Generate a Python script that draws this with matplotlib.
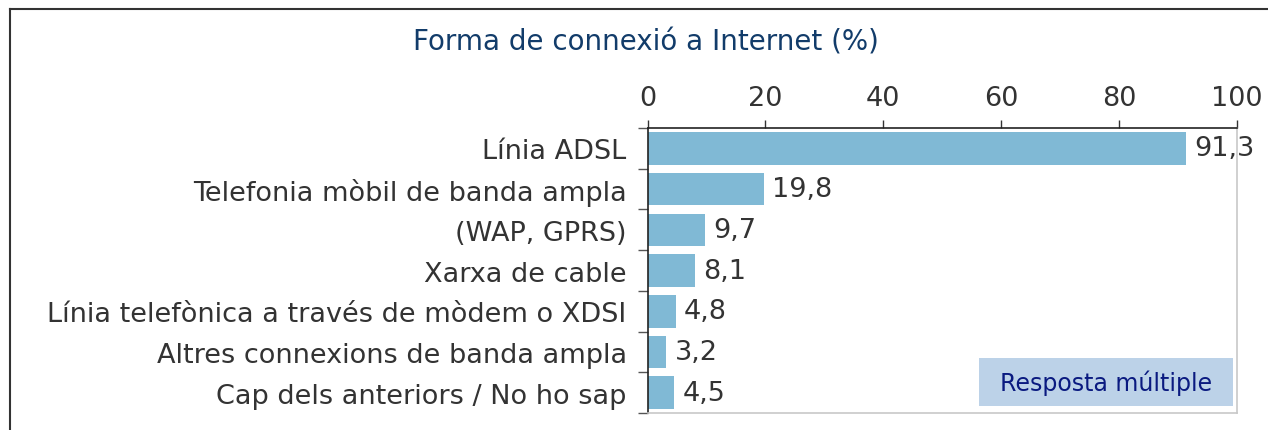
import matplotlib
matplotlib.use("Agg")
import matplotlib.pyplot as plt
from matplotlib.lines import Line2D
from matplotlib.patches import Rectangle
import numpy as np

categories = [
    "Línia ADSL",
    "Telefonia mòbil de banda ampla",
    "(WAP, GPRS)",
    "Xarxa de cable",
    "Línia telefònica a través de mòdem o XDSI",
    "Altres connexions de banda ampla",
    "Cap dels anteriors / No ho sap",
]
values = [91.3, 19.8, 9.7, 8.1, 4.8, 3.2, 4.5]
value_labels = ["91,3", "19,8", "9,7", "8,1", "4,8", "3,2", "4,5"]
x_ticks = [0, 20, 40, 60, 80, 100]
title = "Forma de connexió a Internet (%)"
note = "Resposta múltiple"

plt.rcParams['font.family'] = ['DejaVu Sans']

W, H = 1268, 431
fig = plt.figure(figsize=(W / 100, H / 100), dpi=100)

FS = 19.5
txt = "#333333"

ax = fig.add_axes([647.5 / W, 1 - 414 / H, (1237 - 647.5) / W, (414 - 129) / H])
y = np.arange(len(categories))
ax.barh(y, values, height=0.8, color="#80b9d5", zorder=2)
ax.set_ylim(len(categories) - 0.5, -0.5)
ax.set_xlim(0, 100)

ax.xaxis.tick_top()
ax.set_xticks(x_ticks)
ax.set_xticklabels([str(t) for t in x_ticks], fontsize=FS, color=txt)
ax.tick_params(axis="x", direction="out", length=6, width=1, color="#333333", pad=6)

ax.set_yticks(y)
ax.set_yticklabels(categories, fontsize=FS, color=txt)
ax.tick_params(axis="y", which="major", length=0, pad=15)
ax.set_yticks(np.arange(len(categories) + 1) - 0.5, minor=True)
ax.tick_params(axis="y", which="minor", length=7, width=1, color="#555555", direction="out")

for sp in ["top", "left"]:
    ax.spines[sp].set_color("#222222")
    ax.spines[sp].set_linewidth(1.2)
for sp in ["right", "bottom"]:
    ax.spines[sp].set_color("#c8c8c8")
    ax.spines[sp].set_linewidth(1.2)

for yi, v, lab in zip(y, values, value_labels):
    ax.text(v + 1.4, yi, lab, va="center", ha="left", fontsize=FS, color=txt)

fig.text(646 / W, 1 - 42 / H, title, ha="center", va="center", fontsize=20, color="#123c6a")

bx0, bx1, by0, by1 = 979, 1233, 359, 407
fig.add_artist(Rectangle((bx0 / W, 1 - by1 / H), (bx1 - bx0) / W, (by1 - by0) / H,
                         transform=fig.transFigure, facecolor="#bcd2e8", edgecolor="none",
                         zorder=3))
fig.text((bx0 + bx1) / 2 / W, 1 - (by0 + by1) / 2 / H, note, ha="center", va="center",
         fontsize=17, color="#0a1a80", zorder=4)

fig.add_artist(Line2D([9.5 / W, 9.5 / W], [0, 1 - 9.5 / H], transform=fig.transFigure,
                      color="#333333", linewidth=1.5))
fig.add_artist(Line2D([9.5 / W, 1], [1 - 9.5 / H, 1 - 9.5 / H], transform=fig.transFigure,
                      color="#333333", linewidth=1.5))

fig.savefig("out.png", dpi=100)
